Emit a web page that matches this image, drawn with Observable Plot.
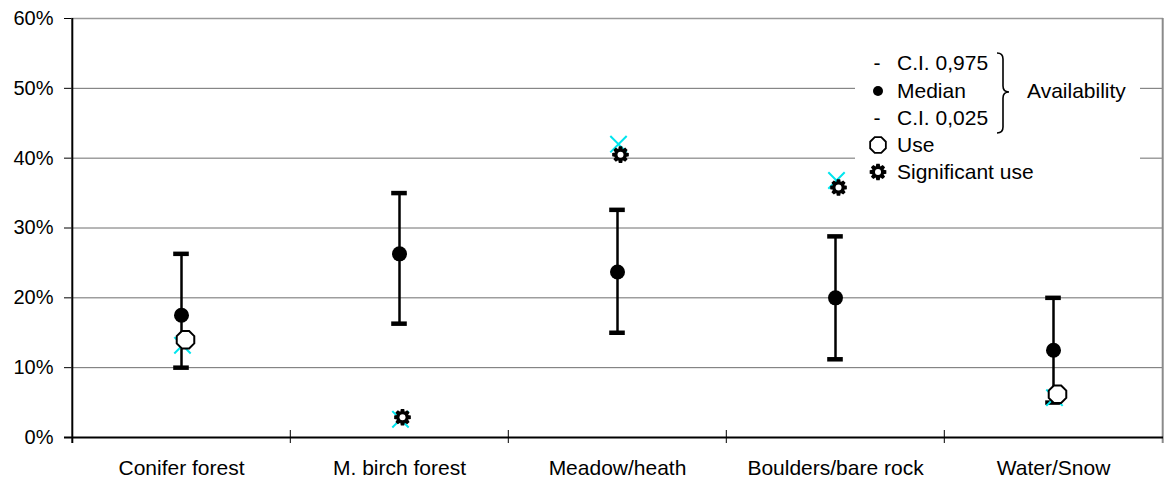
<!DOCTYPE html>
<html><head><meta charset="utf-8">
<script src="https://cdn.jsdelivr.net/npm/d3@7"></script>
<script src="https://cdn.jsdelivr.net/npm/@observablehq/plot@0.6"></script>
<style>
body{margin:0;background:#fff;font-family:"Liberation Sans",Arial,sans-serif;}
#wrap{position:relative;width:1166px;height:481px;}
#legend{position:absolute;left:855px;top:45px;width:285px;height:140px;background:#fff;}
</style></head><body><div id="wrap"><div id="legend"></div></div>
<script>
const categories = ["Conifer forest","M. birch forest","Meadow/heath","Boulders/bare rock","Water/Snow"];
const ciHigh   = [0.263, 0.350, 0.326, 0.288, 0.200];
const median   = [0.175, 0.263, 0.237, 0.200, 0.125];
const ciLow    = [0.100, 0.163, 0.150, 0.112, 0.050];
const expected = [0.132, 0.026, 0.420, 0.368, 0.057];
const useValue = [0.140, 0.029, 0.405, 0.358, 0.062];
const significant = [false, true, true, true, false];
const yTicks = [0, 0.1, 0.2, 0.3, 0.4, 0.5, 0.6];
const legendAvail = ["C.I. 0,975", "Median", "C.I. 0,025"];
const legendOther = ["Use", "Significant use"];
const groupLabel = "Availability";

const rows = categories.map((c, i) => ({cat: c, hi: ciHigh[i], med: median[i], lo: ciLow[i], exp: expected[i], use: useValue[i], sig: significant[i]}));

const W = 1166, H = 481, ML = 71, MR = 3, MT = 18, MB = 44;
const bw = (W - ML - MR) / categories.length;
const font = '"Liberation Sans", Arial, sans-serif';

const octagon = {draw(ctx, size) {
  const r = Math.sqrt(size / Math.PI);
  for (let k = 0; k < 8; k++) {
    const a = Math.PI / 8 + k * Math.PI / 4;
    const x = r * Math.cos(a), y = r * Math.sin(a);
    if (k) ctx.lineTo(x, y); else ctx.moveTo(x, y);
  }
  ctx.closePath();
}};
const gear = {draw(ctx, size) {
  const R = Math.sqrt(size / Math.PI), r0 = R * 0.7;
  let first = true;
  for (let k = 0; k < 8; k++) {
    const a = k * Math.PI / 4;
    const pts = [[r0, a - 0.39], [R, a - 0.2], [R, a + 0.2], [r0, a + 0.39]];
    for (const [rr, aa] of pts) {
      const x = rr * Math.cos(aa), y = rr * Math.sin(aa);
      if (first) { ctx.moveTo(x, y); first = false; } else ctx.lineTo(x, y);
    }
  }
  ctx.closePath();
}};

const sigRows = rows.filter(d => d.sig);
const useRows = rows.filter(d => !d.sig);

const chart = Plot.plot({
  width: W, height: H, marginLeft: ML, marginRight: MR, marginTop: MT, marginBottom: MB,
  style: {fontFamily: font, fontSize: "20px", color: "#000", background: "#fff"},
  x: {domain: categories, padding: 0, label: null},
  y: {domain: [0, 0.6], label: null},
  marks: [
    Plot.ruleY(yTicks.filter(d => d > 0 && d < 0.6), {stroke: "#6e6e6e", strokeWidth: 1}),
    Plot.ruleY([0.6], {stroke: "#9a9a9a", strokeWidth: 1.5}),
    Plot.ruleX(categories.slice(1), {dx: -bw / 2, y1: 0, y2: 0, insetTop: -7, insetBottom: -6, stroke: "#000", strokeWidth: 1}),
    Plot.ruleX([categories[categories.length - 1]], {dx: bw / 2, y1: 0.6, y2: 0, insetBottom: -6, stroke: "#8a8a8a", strokeWidth: 2}),
    Plot.ruleX([categories[0]], {dx: -bw / 2, y1: 0.6, y2: 0, insetBottom: -6, stroke: "#000", strokeWidth: 2}),
    Plot.ruleY([0], {stroke: "#000", strokeWidth: 2, insetLeft: -7}),
    Plot.axisY({ticks: yTicks, tickFormat: d3.format(".0%"), tickSize: 7, tickPadding: 11, fontSize: 20, label: null, stroke: "#000"}),
    Plot.axisX({tickSize: 0, tickPadding: 23, fontSize: 21, label: null}),
    Plot.ruleX(rows, {x: "cat", y1: "lo", y2: "hi", stroke: "#000", strokeWidth: 2.5}),
    Plot.tickY(rows, {x: "cat", y: "hi", stroke: "#000", strokeWidth: 4.5, insetLeft: (bw - 16) / 2, insetRight: (bw - 16) / 2}),
    Plot.tickY(rows, {x: "cat", y: "lo", stroke: "#000", strokeWidth: 4.5, insetLeft: (bw - 16) / 2, insetRight: (bw - 16) / 2}),
    Plot.dot(rows, {x: "cat", y: "med", r: 7.5, fill: "#000", stroke: "none"}),
    Plot.dot(rows, {x: "cat", y: "exp", symbol: "times", r: 7.5, stroke: "#00e5ee", strokeWidth: 2, dx: 1}),
    Plot.dot(useRows, {x: "cat", y: "use", symbol: octagon, r: 9.5, fill: "#fff", stroke: "#000", strokeWidth: 2, dx: 4}),
    Plot.dot(sigRows, {x: "cat", y: "use", symbol: gear, r: 8.5, fill: "#000", stroke: "none", dx: 3}),
    Plot.dot(sigRows, {x: "cat", y: "use", r: 3, fill: "#fff", stroke: "none", dx: 3})
  ]
});
document.getElementById("wrap").insertBefore(chart, document.getElementById("legend"));

// Legend
const lg = d3.select("#legend").append("svg").attr("width", 285).attr("height", 140)
  .style("font-family", font).style("font-size", "21px");
const rowY = [18, 46, 73, 100, 127];
const labels = legendAvail.concat(legendOther);
lg.selectAll("text.lab").data(labels).join("text").attr("class", "lab")
  .attr("x", 42).attr("y", (d, i) => rowY[i]).attr("dy", "0.35em").text(d => d);
lg.selectAll("text.dash").data([0, 2]).join("text").attr("class", "dash")
  .attr("x", 22).attr("y", i => rowY[i]).attr("dy", "0.35em").attr("text-anchor", "middle").text("-");
lg.append("circle").attr("cx", 23).attr("cy", rowY[1]).attr("r", 5).attr("fill", "#000");
lg.append("path").attr("transform", `translate(23,${rowY[3]})`)
  .attr("d", d3.symbol(octagon, Math.PI * 8.5 * 8.5)()).attr("fill", "#fff").attr("stroke", "#000").attr("stroke-width", 1.8);
lg.append("path").attr("transform", `translate(23,${rowY[4]})`)
  .attr("d", d3.symbol(gear, Math.PI * 8.5 * 8.5)()).attr("fill", "#000");
lg.append("circle").attr("cx", 23).attr("cy", rowY[4]).attr("r", 3).attr("fill", "#fff");
lg.append("path")
  .attr("d", "M142,8 Q148,8 148,14 L148,41 Q148,47 154,47 Q148,47 148,53 L148,82 Q148,88 142,88")
  .attr("fill", "none").attr("stroke", "#000").attr("stroke-width", 1.6);
lg.append("text").attr("x", 172).attr("y", 46).attr("dy", "0.35em").text(groupLabel);
</script></body></html>
